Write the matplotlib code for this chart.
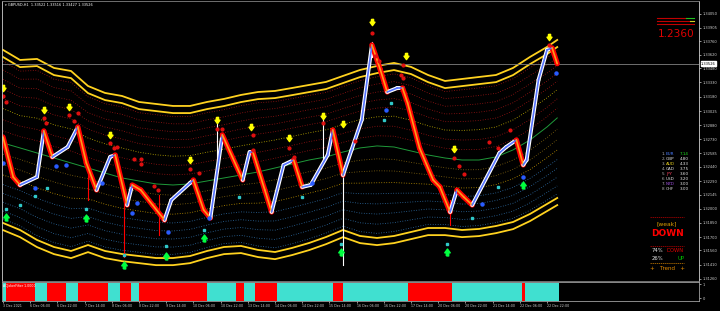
import numpy as np
import matplotlib.pyplot as plt
from matplotlib.path import Path
from matplotlib.lines import Line2D
import matplotlib.transforms as mtransforms

# ---- swing path of the H1 candles (bar index, price) ----
path_bar = [0, 6, 10, 20, 24, 29, 38, 44, 49, 55, 63, 66, 73, 76, 81, 88, 95, 99,
            110, 112, 118, 122, 129, 141, 145, 147, 154, 158, 165, 171, 176, 181,
            191, 194, 200, 205, 211, 217, 222, 226, 232, 235, 238, 245, 253, 257,
            263, 267, 271, 276, 292, 296, 302, 306, 308, 315, 320, 323, 326]
path_price = [1.32754, 1.32333, 1.32249, 1.32333, 1.32818, 1.32544, 1.32649, 1.32860,
              1.32481, 1.32196, 1.32544, 1.32565, 1.32038, 1.32249, 1.32196, 1.32038,
              1.31880, 1.32091, 1.32270, 1.32302, 1.31986, 1.31901, 1.32776, 1.32302,
              1.32596, 1.32596, 1.32196, 1.31965, 1.32460, 1.32512, 1.32228, 1.32249,
              1.32565, 1.32828, 1.32354, 1.32618, 1.32933, 1.33723, 1.33460, 1.33228,
              1.33270, 1.33270, 1.33112, 1.32639, 1.32302, 1.32228, 1.31965, 1.32196,
              1.32123, 1.32038, 1.32586, 1.32649, 1.32723, 1.32460, 1.32512, 1.33355,
              1.33671, 1.33692, 1.33526]

# long wicks
wick_bar = [71, 200, 263, 188, 92, 50, 217, 126]
wick_low = [1.31491, 1.31407, 1.31828, 1.32512, 1.31722, 1.32091, 1.33600, 1.32407]
wick_high = [1.32249, 1.32407, 1.32091, 1.32955, 1.32144, 1.32354, 1.33755, 1.32933]
wick_up = [False, True, False, True, False, False, True, True]

# ---- envelope bands, sampled every 10 bars ----
band_bar = list(range(0, 321, 10)) + [326]
upper_band = [1.33671, 1.33565, 1.33576, 1.33481, 1.33449, 1.33291, 1.33218, 1.33186,
              1.33123, 1.33102, 1.33081, 1.33081, 1.33123, 1.33155, 1.33197, 1.33228,
              1.33239, 1.33270, 1.33302, 1.33334, 1.33397, 1.33460, 1.33502, 1.33534,
              1.33492, 1.33407, 1.33344, 1.33365, 1.33386, 1.33407, 1.33481, 1.33597,
              1.33702, 1.33776]
lower_band = [1.31849, 1.31775, 1.31670, 1.31596, 1.31554, 1.31617, 1.31554, 1.31522,
              1.31501, 1.31480, 1.31480, 1.31501, 1.31554, 1.31596, 1.31607, 1.31565,
              1.31543, 1.31586, 1.31638, 1.31701, 1.31775, 1.31712, 1.31691, 1.31712,
              1.31754, 1.31796, 1.31796, 1.31775, 1.31786, 1.31817, 1.31859, 1.31944,
              1.32049, 1.32112]
mid_line = [1.32691, 1.32639, 1.32586, 1.32533, 1.32481, 1.32428, 1.32375, 1.32323,
            1.32291, 1.32260, 1.32249, 1.32260, 1.32291, 1.32323, 1.32354, 1.32386,
            1.32428, 1.32470, 1.32512, 1.32544, 1.32596, 1.32639, 1.32660, 1.32649,
            1.32607, 1.32565, 1.32533, 1.32512, 1.32512, 1.32544, 1.32618, 1.32723,
            1.32860, 1.32955]
band_gap = 0.00075
level_fracs = [0.14, 0.27, 0.40, 0.52, 0.63, 0.74, 0.85, 0.95]

# ---- signal markers ----
sell_bar = [0, 24, 39, 63, 110, 126, 146, 168, 188, 200, 217, 237, 265, 321]
sell_price = [1.33270, 1.33039, 1.33070, 1.32775, 1.32512, 1.32933, 1.32860, 1.32744,
              1.32976, 1.32891, 1.33965, 1.33607, 1.32628, 1.33807]
red_bar = [0, 2, 24, 25, 39, 44, 42, 63, 65, 67, 77, 81, 81, 89, 91, 110, 115, 126, 129,
           147, 147, 168, 171, 188, 207, 217, 219, 221, 234, 235, 235, 265, 268, 271,
           286, 291, 298, 321]
red_price = [1.33186, 1.33123, 1.32954, 1.32902, 1.32986, 1.33007, 1.32923, 1.32691,
             1.32639, 1.32649, 1.32523, 1.32523, 1.32470, 1.32238, 1.32196, 1.32417,
             1.32375, 1.32839, 1.32839, 1.32775, 1.32618, 1.32639, 1.32544, 1.32902,
             1.32712, 1.33850, 1.33607, 1.33555, 1.33407, 1.33513, 1.33376, 1.32533,
             1.32449, 1.32365, 1.32702, 1.32639, 1.32828, 1.33723]
cyan_bar = [2, 10, 19, 26, 49, 71, 96, 118, 139, 176, 199, 224, 228, 261, 276, 291]
cyan_price = [1.31996, 1.32038, 1.32133, 1.32217, 1.31996, 1.31512, 1.31607, 1.31775,
              1.32123, 1.32123, 1.31628, 1.32933, 1.33112, 1.31628, 1.31901, 1.32228]
blue_bar = [0, 19, 31, 37, 58, 76, 79, 97, 121, 182, 225, 282, 306, 325]
blue_price = [1.32481, 1.32217, 1.32449, 1.32460, 1.32270, 1.31954, 1.32059, 1.31754,
              1.31901, 1.32270, 1.33039, 1.32049, 1.32333, 1.33428]
buy_bar = [2, 49, 71, 96, 118, 199, 261, 306]
buy_price = [1.31912, 1.31901, 1.31407, 1.31501, 1.31691, 1.31543, 1.31543, 1.32249]

# ---- filter histogram runs ----
trend_edges = [0, 2, 19, 26, 37, 44, 62, 69, 75, 80, 120, 137, 142, 148, 161, 194,
               200, 238, 264, 305, 307, 327]
trend_down = [0, 1, 0, 1, 0, 1, 0, 1, 0, 1, 0, 1, 0, 1, 0, 1, 0, 1, 0, 1, 0]

price_ticks = ['1.34050', '1.33905', '1.33760', '1.33620', '1.33480', '1.33330',
               '1.33180', '1.33025', '1.32880', '1.32730', '1.32585', '1.32440',
               '1.32290', '1.32145', '1.32000', '1.31850', '1.31700', '1.31560',
               '1.31410', '1.31260']
date_labels = ['3 Dec 2021', '6 Dec 06:00', '6 Dec 22:00', '7 Dec 14:00', '8 Dec 06:00',
               '8 Dec 22:00', '9 Dec 14:00', '10 Dec 06:00', '10 Dec 22:00',
               '13 Dec 14:00', '14 Dec 06:00', '14 Dec 22:00', '15 Dec 14:00',
               '16 Dec 06:00', '16 Dec 22:00', '17 Dec 14:00', '20 Dec 06:00',
               '20 Dec 22:00', '21 Dec 14:00', '22 Dec 06:00', '22 Dec 22:00']
strength_names = ['EUR', 'GBP', 'AUD', 'CAD', 'JPY', 'USD', 'NZD', 'CHF']
strength_values = ['7.14', '4.80', '4.33', '3.75', '3.60', '3.20', '3.00', '3.00']
strength_colors = ['#4a7dff', '#e6e6e6', '#e8d020', '#e6e6e6', '#ff4060', '#e6e6e6',
                   '#a050e0', '#d0d0d0']

W, H = 720, 311


def fxy(px, py):
    return px / W, 1 - py / H


fig = plt.figure(figsize=(7.2, 3.11), dpi=100, facecolor='black')
ax = fig.add_axes([2 / W, 30 / H, 697 / W, 280 / H])
ax.set_facecolor('black')
ax.set_xlim(-0.6, 409.4)
ax.set_ylim(1.31238, 1.34186)

# envelope levels
mid = np.array(mid_line)
up_in = np.array(upper_band) - band_gap
lo_in = np.array(lower_band)
for i, f in enumerate(level_fracs):
    c_up = '#c8b400' if i == 2 else '#a01515'
    c_lo = '#c89a00' if i == 2 else ('#8a6a10' if i < 2 else '#2f6fa8')
    ax.plot(band_bar, mid + f * (up_in - mid), color=c_up, lw=0.6, ls=(0, (1, 2)))
    ax.plot(band_bar, mid + f * (lo_in - mid), color=c_lo, lw=0.6, ls=(0, (1, 2)))
ax.plot(band_bar, mid_line, color='#1f9a3a', lw=0.7)
for arr in (upper_band, lower_band):
    ax.plot(band_bar, arr, color='#ffd21f', lw=1.3)
    ax.plot(band_bar, np.array(arr) - band_gap, color='#ffd21f', lw=1.3)

# current price line
ax.axhline(path_price[-1], color='#808080', lw=0.6)

# candles as swing segments
for b, lo, hi, up in zip(wick_bar, wick_low, wick_high, wick_up):
    ax.plot([b, b], [lo, hi], color='white' if up else '#ff0000', lw=0.8)
for i in range(len(path_bar) - 1):
    rising = path_price[i + 1] >= path_price[i]
    ax.plot(path_bar[i:i + 2], path_price[i:i + 2],
            color='white' if rising else '#ff0000', lw=2.8 if rising else 3.8,
            solid_capstyle='round')
for i in range(len(path_bar) - 1):
    rising = path_price[i + 1] >= path_price[i]
    ax.plot(path_bar[i:i + 2], path_price[i:i + 2],
            color='#5573ff' if rising else '#ff9a1a', lw=1.2, solid_capstyle='round')

# markers
down_arrow = Path([(-0.35, 1), (0.35, 1), (0.35, 0.1), (0.8, 0.1), (0, -1),
                   (-0.8, 0.1), (-0.35, 0.1), (-0.35, 1)])
up_arrow = Path([(-0.35, -1), (0.35, -1), (0.35, -0.1), (0.8, -0.1), (0, 1),
                 (-0.8, -0.1), (-0.35, -0.1), (-0.35, -1)])
ax.plot(sell_bar, sell_price, ls='none', marker=down_arrow, ms=4.5, color='#ffff00')
ax.plot(red_bar, red_price, ls='none', marker='o', ms=2.0, color='#e01010')
ax.plot(cyan_bar, cyan_price, ls='none', marker='s', ms=1.8, color='#30c8c8')
ax.plot(blue_bar, blue_price, ls='none', marker='o', ms=2.2, color='#2a5cff')
ax.plot(buy_bar, buy_price, ls='none', marker=up_arrow, ms=5, color='#00ff40')

# axes styling
ax.set_xticks([])
ax.set_yticks([float(t) for t in price_ticks])
ax.set_yticklabels(price_ticks)
ax.yaxis.tick_right()
ax.tick_params(axis='y', length=1.5, width=0.5, colors='#d0d0d0', labelsize=2.6, pad=1)
for s in ('left', 'right'):
    ax.spines[s].set_color('#d0d0d0')
    ax.spines[s].set_linewidth(0.6)
for s in ('top', 'bottom'):
    ax.spines[s].set_color('#808080')
    ax.spines[s].set_linewidth(0.6)

ax.text(0.0045, 0.984, '\u25be GBPUSD,H1  1.33522 1.33516 1.33427 1.33526',
        transform=ax.transAxes, color='white', fontsize=2.5, va='center')

trans = mtransforms.blended_transform_factory(ax.transAxes, ax.transData)
ax.text(1.003, path_price[-1], '1.33526', transform=trans, fontsize=2.6, color='black',
        va='center', ha='left',
        bbox=dict(boxstyle='square,pad=0.15', fc='white', ec='white'))

# indicator panel
ax2 = fig.add_axes([2 / W, 10 / H, 697 / W, 19 / H])
ax2.set_facecolor('black')
ax2.set_xlim(-0.6, 409.4)
ax2.set_ylim(-0.214, 1.143)
starts = trend_edges[:-1]
widths = np.diff(trend_edges)
ax2.bar(starts, height=1.3, bottom=-0.2, width=widths, align='edge',
        color=['#ff0000' if d else '#40e0d0' for d in trend_down], linewidth=0)
ax2.text(0.002, 0.78, 'ACJokerFilter 1.0000', transform=ax2.transAxes, fontsize=2.3,
         color='white', va='center')
ax2.set_yticks([0, 1])
ax2.set_yticklabels(['0', '1'])
ax2.yaxis.tick_right()
ax2.tick_params(axis='y', length=1.5, width=0.5, colors='#d0d0d0', labelsize=2.6, pad=1)
ax2.set_xticks([16 * k for k in range(len(date_labels))])
ax2.set_xticklabels(date_labels)
ax2.tick_params(axis='x', length=1.5, width=0.5, colors='#d0d0d0', labelsize=2.3, pad=1)
for lbl in ax2.get_xticklabels():
    lbl.set_ha('left')
for s in ax2.spines.values():
    s.set_color('#a0a0a0')
    s.set_linewidth(0.6)

# right-hand info panel
fig.text(*fxy(676, 34), '1.2360', color='#e00000', fontsize=7.6, ha='center', va='center')
for y, segs in ((18, [(657, 686, '#c00000'), (686, 694, '#20c020')]),
                (21, [(657, 690, '#c00000'), (690, 694, '#d0d020')]),
                (24, [(657, 694, '#c00000')])):
    for x0, x1, c in segs:
        fig.add_artist(Line2D([x0 / W, x1 / W], [1 - y / H] * 2, color=c, lw=0.8,
                              transform=fig.transFigure))
for i, (nm, val, col) in enumerate(zip(strength_names, strength_values, strength_colors)):
    y = 154 + 5 * i
    fig.text(*fxy(662, y), f'{i + 1}.', color='#b0b0b0', fontsize=3, va='center')
    fig.text(*fxy(666, y), nm, color=col, fontsize=3, va='center')
    fig.text(*fxy(680, y), val, color='#20e020' if i == 0 else '#e6e6e6', fontsize=3,
             va='center')

for y, c in ((217, '#c00000'), (246, '#c00000'), (263, '#d08000')):
    fig.add_artist(Line2D([650 / W, 684 / W], [1 - y / H] * 2, color=c, lw=0.5,
                          ls=(0, (2, 1)), transform=fig.transFigure))
fig.text(*fxy(667, 224), '[weak]', color='#e0a000', fontsize=4.3, ha='center', va='center')
fig.text(*fxy(667, 234), 'DOWN', color='#ff0000', fontsize=6.5, fontweight='bold',
         ha='center', va='center')
fig.text(*fxy(652, 250), '74%', color='#e6e6e6', fontsize=3.8, va='center')
fig.text(*fxy(684, 250), 'DOWN', color='#e00000', fontsize=3.8, ha='right', va='center')
fig.text(*fxy(652, 258), '26%', color='#e6e6e6', fontsize=3.8, va='center')
fig.text(*fxy(684, 258), 'UP', color='#00c000', fontsize=3.8, ha='right', va='center')
fig.text(*fxy(667, 268), '+   Trend   +', color='#e08a00', fontsize=4, ha='center',
         va='center')

fig.savefig('out.png', dpi=100, facecolor='black')
